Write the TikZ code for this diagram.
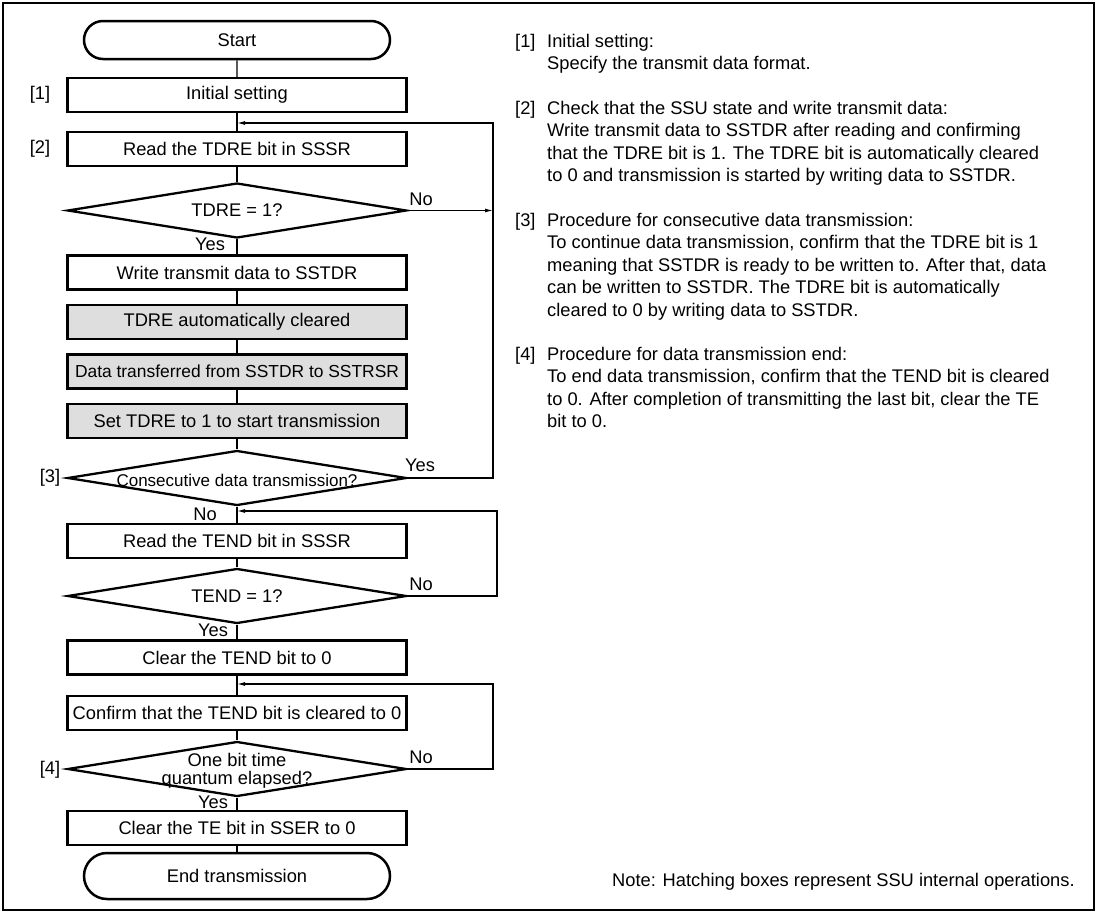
\documentclass[tikz,border=0pt]{standalone}
\usepackage{fontspec}
\setmainfont{Liberation Sans}
\usetikzlibrary{arrows.meta, positioning, shapes.geometric, shapes.misc}

\newcommand\tagbox[1]{\makebox[32pt][l]{#1}}

\tikzset{
  every node/.style={font=\fontsize{18.3}{22.5}\selectfont},
  proc/.style={draw, line width=2.5pt, minimum width=339pt, minimum height=34pt, inner sep=0pt},
  hatched/.style={proc, fill=black!13},
  term/.style={draw, line width=2.5pt, rounded rectangle, minimum width=306pt, inner sep=0pt},
  decision/.style={draw, line width=2.3pt, diamond, minimum width=339pt, minimum height=55pt, inner sep=0pt},
  flow/.style={line width=1.1pt},
  back/.style={line width=1.1pt, -{Latex[length=8pt, width=4pt]}},
  desc/.style={anchor=north west, align=left, inner sep=0pt},
  yn/.style={inner sep=0pt},
}

\begin{document}
\begin{tikzpicture}[x=1pt, y=-1pt]
\useasboundingbox (0,0) rectangle (1100,913);
\draw[line width=2.4pt] (3,3) rectangle (1094,910);

% main column
\node[term, minimum height=38pt] (start) at (237,40) {Start};
\node[proc] (init) at (237,95) {Initial setting};
\node[proc] (rdtdre) at (237,149) {Read the TDRE bit in SSSR};
\node[decision, label={center:TDRE = 1?}] (chk1) at (237,210.5) {};
\node[proc] (wr) at (237,272.5) {Write transmit data to SSTDR};
\node[hatched] (clr) at (237,322) {TDRE automatically cleared};
\node[hatched, font=\fontsize{17.4}{20}\selectfont] (xfer) at (237,371.5) {Data transferred from SSTDR to SSTRSR};
\node[hatched] (settdre) at (237,421) {Set TDRE to 1 to start transmission};
\node[decision, label={[font=\fontsize{17}{19}\selectfont, yshift=-2pt]center:Consecutive data transmission?}] (cons) at (237,478) {};
\node[proc] (rdtend) at (237,541) {Read the TEND bit in SSSR};
\node[decision, label={center:TEND = 1?}] (chk2) at (237,596) {};
\node[proc] (clrtend) at (237,657.5) {Clear the TEND bit to 0};
\node[proc] (conf) at (237,713) {Confirm that the TEND bit is cleared to 0};
\node[decision, label={[align=center, font=\fontsize{18.3}{18}\selectfont, yshift=-2pt]center:One bit time\\quantum elapsed?}] (chk3) at (237,769) {};
\node[proc] (clrte) at (237,828) {Clear the TE bit in SSER to 0};
\node[term, minimum height=46pt] (stop) at (237,876) {End transmission};

% step tags
\node[yn] (k1) at (40,95) {[1]};
\node[yn] (k2) at (40,149) {[2]};
\node[yn] (k3) at (50,478) {[3]};
\node[yn] (k4) at (50,770) {[4]};

% joins of the loops
\coordinate (j1) at (237,123);
\coordinate (j1r) at (493,123);
\coordinate (j2) at (237,511);
\coordinate (j2r) at (497,511);
\coordinate (j3) at (237,684);
\coordinate (j3r) at (493,684);

\draw[flow] (start) -- (init);
\draw[flow] (init) -- (rdtdre);
\draw[flow] (rdtdre) -- (chk1);
\draw[flow] (chk1) -- (wr);
\draw[flow] (wr) -- (clr);
\draw[flow] (clr) -- (xfer);
\draw[flow] (xfer) -- (settdre);
\draw[flow] (settdre) -- (cons);
\draw[flow] (cons) -- (rdtend);
\draw[flow] (rdtend) -- (chk2);
\draw[flow] (chk2) -- (clrtend);
\draw[flow] (clrtend) -- (conf);
\draw[flow] (conf) -- (chk3);
\draw[flow] (chk3) -- (clrte);
\draw[flow] (clrte) -- (stop);

\draw[back] (chk1.east) -- (chk1.east -| j1r);
\draw[back] (cons.east) -| (j1r) -- (j1);
\draw[back] (chk2.east) -| (j2r) -- (j2);
\draw[back] (chk3.east) -| (j3r) -- (j3);

% yes / no
\node[yn] (no1) at (421,199) {No};
\node[yn] (yes1) at (210,244) {Yes};
\node[yn] (yes2) at (420,465) {Yes};
\node[yn] (no2) at (205,514) {No};
\node[yn] (no3) at (421,584) {No};
\node[yn] (yes3) at (213,630) {Yes};
\node[yn] (no4) at (421,757) {No};
\node[yn] (yes4) at (213,802) {Yes};

% notes on the right
\node[desc] (t1) at (515,34) {\tagbox{[1]}Initial setting:\\
  \tagbox{}Specify the transmit data format.};
\node[desc] (t2) at (515,101) {\tagbox{[2]}Check that the SSU state and write transmit data:\\
  \tagbox{}Write transmit data to SSTDR after reading and confirming\\
  \tagbox{}that the TDRE bit is 1. The TDRE bit is automatically cleared\\
  \tagbox{}to 0 and transmission is started by writing data to SSTDR.};
\node[desc] (t3) at (515,213) {\tagbox{[3]}Procedure for consecutive data transmission:\\
  \tagbox{}To continue data transmission, confirm that the TDRE bit is 1\\
  \tagbox{}meaning that SSTDR is ready to be written to. After that, data\\
  \tagbox{}can be written to SSTDR. The TDRE bit is automatically\\
  \tagbox{}cleared to 0 by writing data to SSTDR.};
\node[desc] (t4) at (515,347) {\tagbox{[4]}Procedure for data transmission end:\\
  \tagbox{}To end data transmission, confirm that the TEND bit is cleared\\
  \tagbox{}to 0. After completion of transmitting the last bit, clear the TE\\
  \tagbox{}bit to 0.};

\node[anchor=west, inner sep=0pt] (note) at (612,882) {Note: Hatching boxes represent SSU internal operations.};
\end{tikzpicture}
\end{document}
